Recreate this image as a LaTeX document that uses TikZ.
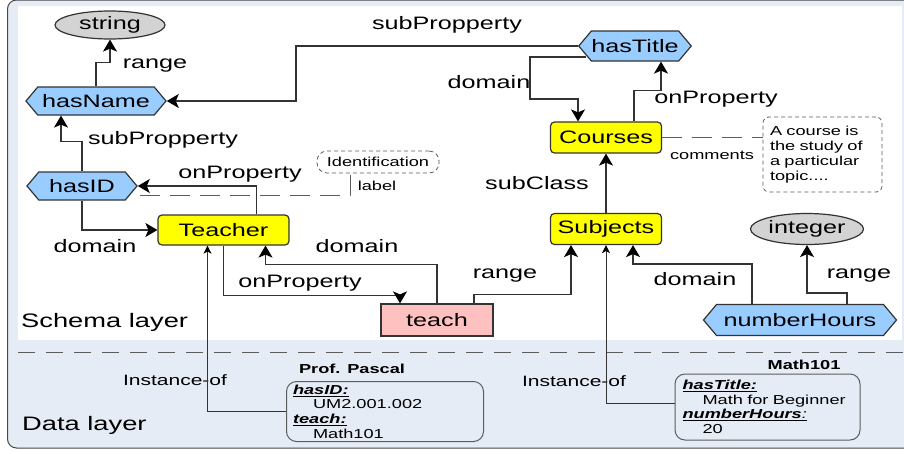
\documentclass[tikz,border=0pt]{standalone}
\usepackage{fontspec}
\setmainfont{Liberation Sans}[FakeStretch=1.4]
\usetikzlibrary{shapes.geometric,shapes.symbols,arrows.meta}
\definecolor{propblue}{HTML}{99CCFF}
\definecolor{classyellow}{HTML}{FFFF00}
\definecolor{teachpink}{HTML}{FFC0C0}
\definecolor{typegray}{HTML}{D3D3D3}
\definecolor{layerbg}{HTML}{E6ECF6}
\definecolor{edgegray}{HTML}{333333}
\newcommand{\propkey}[1]{\underline{\textbf{\textit{#1}}}}

\begin{document}
\begin{tikzpicture}[
    x=1pt, y=-1pt,
    prop/.style={signal, signal to=east and west, signal pointer angle=100, draw=edgegray, line width=1.2pt, fill=propblue, inner sep=0pt, minimum height=28pt, font=\fontsize{18}{20}\selectfont},
    cls/.style={rectangle, rounded corners=4pt, draw=edgegray, line width=1.2pt, fill=classyellow, inner sep=0pt, minimum width=111pt, minimum height=31pt, font=\fontsize{18}{20}\selectfont},
    rel/.style={rectangle, draw=edgegray, line width=1.2pt, fill=teachpink, inner sep=0pt, minimum width=112pt, minimum height=32pt, font=\fontsize{18}{20}\selectfont},
    typ/.style={ellipse, draw=edgegray, line width=1.2pt, fill=typegray, inner sep=0pt, minimum width=110pt, minimum height=28pt, font=\fontsize{18}{20}\selectfont},
    note/.style={rectangle, rounded corners=10pt, draw=edgegray!80, dashed, dash pattern=on 4pt off 3pt, line width=0.8pt, fill=white, inner sep=0pt, minimum width=122pt, minimum height=22pt, font=\fontsize{13}{15}\selectfont},
    instbox/.style={rectangle, rounded corners=10pt, draw=edgegray!80, line width=1pt, fill=layerbg, inner sep=0pt, align=left, font=\fontsize{13}{14.6}\selectfont},
    lbl/.style={inner sep=0pt, font=\fontsize{18}{20}\selectfont},
    small/.style={inner sep=0pt, font=\fontsize{13}{15}\selectfont},
    instlbl/.style={inner sep=0pt, font=\fontsize{15}{17}\selectfont},
    title/.style={inner sep=0pt, font=\fontsize{13}{15}\selectfont\bfseries},
    layer/.style={inner sep=0pt, anchor=west, font=\fontsize{19.5}{22}\selectfont},
    arr/.style={draw=edgegray, line width=1.3pt, -{Stealth[length=12pt,width=14pt,inset=3pt,black]}},
    inst/.style={draw=edgegray, line width=0.9pt, -{Stealth[length=8pt,width=8pt,inset=2pt,black]}},
    dashline/.style={draw=edgegray!80, line width=0.9pt, dash pattern=on 20pt off 10pt},
    sep/.style={draw=edgegray!80, line width=0.9pt, dash pattern=on 17pt off 11pt}
]

\useasboundingbox (0,0) rectangle (904,453);
\fill[white] (0,0) rectangle (904,453);
\draw[draw=edgegray!90, fill=layerbg, rounded corners=9pt, line width=1pt] (7.5,0) rectangle (920,448);
\fill[white] (18,5.5) rectangle (902,339.5);
\draw[sep] (18,352) -- (904,352);

\node[typ] (string) at (110,25) {string};
\node[prop, minimum width=140pt] (hasName) at (96,101) {hasName};
\node[prop, minimum width=110pt] (hasID) at (82,186) {hasID};
\node[cls, minimum width=131pt, minimum height=30pt] (Teacher) at (223.5,230) {Teacher};
\node[prop, minimum width=112pt, minimum height=30pt] (hasTitle) at (635,46) {hasTitle};
\node[cls] (Courses) at (606,137.5) {Courses};
\node[cls] (Subjects) at (606,229) {Subjects};
\node[rel] (teach) at (437,320) {teach};
\node[typ, minimum width=113pt, minimum height=31pt] (integer) at (807,229) {integer};
\node[prop, minimum width=193pt, minimum height=31pt] (numberHours) at (800,320) {numberHours};
\node[note] (ident) at (378,162) {Identification};
\node[note, align=left, text width=105pt, minimum width=119pt, minimum height=75pt, rounded corners=6pt] (comment) at (822.5,154.5) {A course is\\the study of\\a particular\\topic....};

\node[instbox, text width=184pt, minimum width=197pt, minimum height=60pt] (pascal) at (385,411.5) {\propkey{hasID:}\\\hspace*{20pt}UM2.001.002\\\propkey{teach:}\\\hspace*{20pt}Math101};
\node[instbox, text width=170pt, minimum width=185pt, minimum height=66pt] (math) at (767.5,407) {\propkey{hasTitle:}\\\hspace*{20pt}Math for Beginner\\\underline{\textbf{\textit{numberHours}}\textit{:}}\\\hspace*{20pt}20};
\node[title] (pascalTitle) at (352,369) {Prof. Pascal};
\node[title] (mathTitle) at (804,365) {Math101};

\node[layer] (schemaLbl) at (21,322) {Schema layer};
\node[layer] (dataLbl) at (22,425) {Data layer};

\node[lbl] (lRange1) at (155,66) {range};
\node[lbl] (lSub1) at (447,25) {subPropperty};
\node[lbl] (lSub2) at (163,140) {subPropperty};
\node[lbl] (lOn1) at (240,174) {onProperty};
\node[lbl] (lDom1) at (95,246) {domain};
\node[lbl] (lDom2) at (357,246) {domain};
\node[lbl] (lOn2) at (300,283) {onProperty};
\node[lbl] (lRange2) at (505,276) {range};
\node[lbl] (lDom3) at (695,279) {domain};
\node[lbl] (lRange3) at (859,276) {range};
\node[lbl] (lSubClass) at (537,183) {subClass};
\node[lbl] (lDom4) at (489,82) {domain};
\node[lbl] (lOn3) at (716,99) {onProperty};
\node[small] (lComments) at (712,155) {comments};
\node[small] (lLabel) at (377,186) {label};
\node[instlbl] (lInst1) at (175,380) {Instance-of};
\node[instlbl] (lInst2) at (574,381) {Instance-of};

\draw[arr] (hasName.north) -- ++(0,-24) -| (string.south);
\draw[arr] (hasTitle.west) -- ++(-282,0) |- (hasName.east);
\draw[arr] (hasID.north) -- ++(0,-30) -| ([xshift=-35]hasName.south);
\draw[arr] ([xshift=33]Teacher.north) |- (hasID.east);
\draw[arr] (hasID.south) |- (Teacher.west);
\draw[dashline] ([shift={(2,9)}]hasID.east) -| ([xshift=-28]ident.south);
\draw[arr] (teach.north) -- ++(0,-39) -| ([xshift=42]Teacher.south);
\draw[arr] (Teacher.south) -- ++(0,50) -| ([xshift=-37]teach.north);
\draw[arr] ([xshift=37]teach.north) -- ++(0,-9) -| ([xshift=-35]Subjects.south);
\draw[arr] ([xshift=-48]numberHours.north) -- ++(0,-40) -| ([xshift=27]Subjects.south);
\draw[arr] ([xshift=47]numberHours.north) -- ++(0,-11) -| (integer.south);
\draw[arr] (Subjects) -- (Courses);
\draw[arr] ([shift={(8,11)}]hasTitle.west) -- ++(-56,0) -- ++(0,42) -| ([xshift=-28]Courses.north);
\draw[arr] ([xshift=28]Courses.north) -- ++(0,-31) -| ([xshift=26]hasTitle.south);
\draw[dashline] (Courses.east) -- (Courses.east -| comment.west);
\draw[inst] (pascal.west) -| ([xshift=-16]Teacher.south);
\draw[inst] ([shift={(0,-4)}]math.west) -| (Subjects.south);

\end{tikzpicture}
\end{document}
